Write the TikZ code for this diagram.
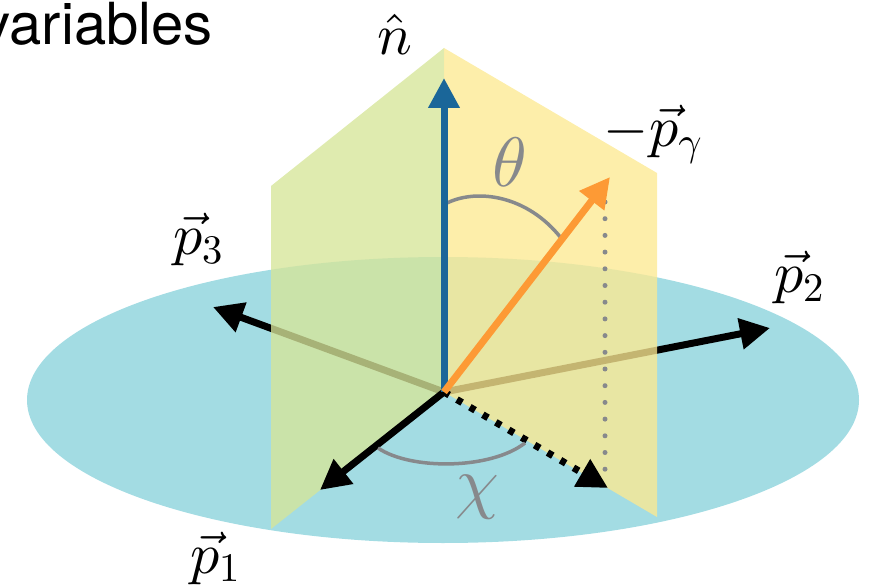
\documentclass[tikz,border=0pt]{standalone}
\usepackage[no-math]{fontspec}
\newfontfamily\heros{TeX Gyre Heros}
\DeclareFontShape{OT1}{cmr}{m}{n}{<->cmr10}{}
\DeclareFontShape{OML}{cmm}{m}{it}{<->cmmi10}{}
\DeclareFontShape{OMS}{cmsy}{m}{n}{<->cmsy10}{}
\DeclareFontShape{OMX}{cmex}{m}{n}{<->cmex10}{}
\usetikzlibrary{arrows.meta}
\definecolor{disk}{RGB}{163,220,227}
\definecolor{gplane}{RGB}{214,229,153}
\definecolor{yplane}{RGB}{252,233,146}
\definecolor{nblue}{RGB}{26,102,153}
\definecolor{gorange}{RGB}{253,154,53}
\definecolor{anggray}{RGB}{135,137,140}
\tikzset{
  vecarrow/.style={line width=7pt, -{Triangle[length=30pt,width=30pt]}},
  plane/.style={fill opacity=0.78},
  anglearc/.style={draw=anggray, line width=3.5pt},
  vlabel/.style={inner sep=0pt, anchor=base, font=\fontsize{58}{60}\selectfont},
  alabel/.style={inner sep=0pt, anchor=base, text=anggray, font=\fontsize{70}{72}\selectfont},
  vdots/.style={draw=anggray, line width=5pt, line cap=round, dash pattern=on 0pt off 16.7pt},
  chidots/.style={line width=7pt, dash pattern=on 6pt off 9pt, -{Triangle[length=30pt,width=30pt]}}
}
\begin{document}
\begin{tikzpicture}[x=1pt,y=-1pt]
\useasboundingbox (0,0) rectangle (875,585);
% key points
\coordinate (O) at (444,392);
\coordinate (ntip) at (444,78);
\coordinate (gtip) at (610,177);
\coordinate (p1tip) at (320,490);
\coordinate (p2tip) at (770,328);
\coordinate (p3tip) at (213,307);
\coordinate (chitip) at (608,488);
\coordinate (vtop) at (605,202);
\coordinate (vbot) at (605,470);
\coordinate (Ptop) at (444,48);
\coordinate (Gtl) at (271,186);
\coordinate (Gbl) at (271,529);
\coordinate (Ytr) at (657,173);
\coordinate (Ybr) at (657,517);
\coordinate (th1) at (447,203);
\coordinate (th2) at (561,238);
\coordinate (ch1) at (378,448);
\coordinate (ch2) at (525,443);
% title
\node[inner sep=0pt, anchor=base east, font=\heros\fontsize{58}{60}\selectfont] (title) at (213,45) {variables};
% disk
\fill[disk] (443,400) ellipse [x radius=416, y radius=143];
% vectors behind planes
\draw[vecarrow] (O) -- (p2tip);
\draw[vecarrow] (O) -- (p3tip);
% planes
\fill[gplane, plane] (Ptop) -- (Gtl) -- (Gbl) -- (O) -- cycle;
\fill[yplane, plane] (Ptop) -- (Ytr) -- (Ybr) -- (O) -- cycle;
% front vectors
\draw[vecarrow] (O) -- (p1tip);
\draw[chidots] (O) -- (chitip);
\draw[vdots] (vtop) -- (vbot);
% angle arcs
\draw[anglearc] (th1) .. controls (478,188) and (528,196) .. (th2);
\draw[anglearc] (ch1) .. controls (410,470) and (490,470) .. (ch2);
\draw[vecarrow, nblue] (O) -- (ntip);
\draw[vecarrow, gorange] (O) -- (gtip);
% labels
\node[vlabel] (nlab) at (395,55) {$\hat{n}$};
\node[vlabel] (glab) at (653,147) {$-\vec{p}_\gamma$};
\node[vlabel] (p3lab) at (198,255) {$\vec{p}_3$};
\node[vlabel] (p2lab) at (799,293) {$\vec{p}_2$};
\node[vlabel] (p1lab) at (215,573) {$\vec{p}_1$};
\node[alabel] (thlab) at (510,187) {$\theta$};
\node[alabel] (chlab) at (477,505) {$\chi$};
\end{tikzpicture}
\end{document}
